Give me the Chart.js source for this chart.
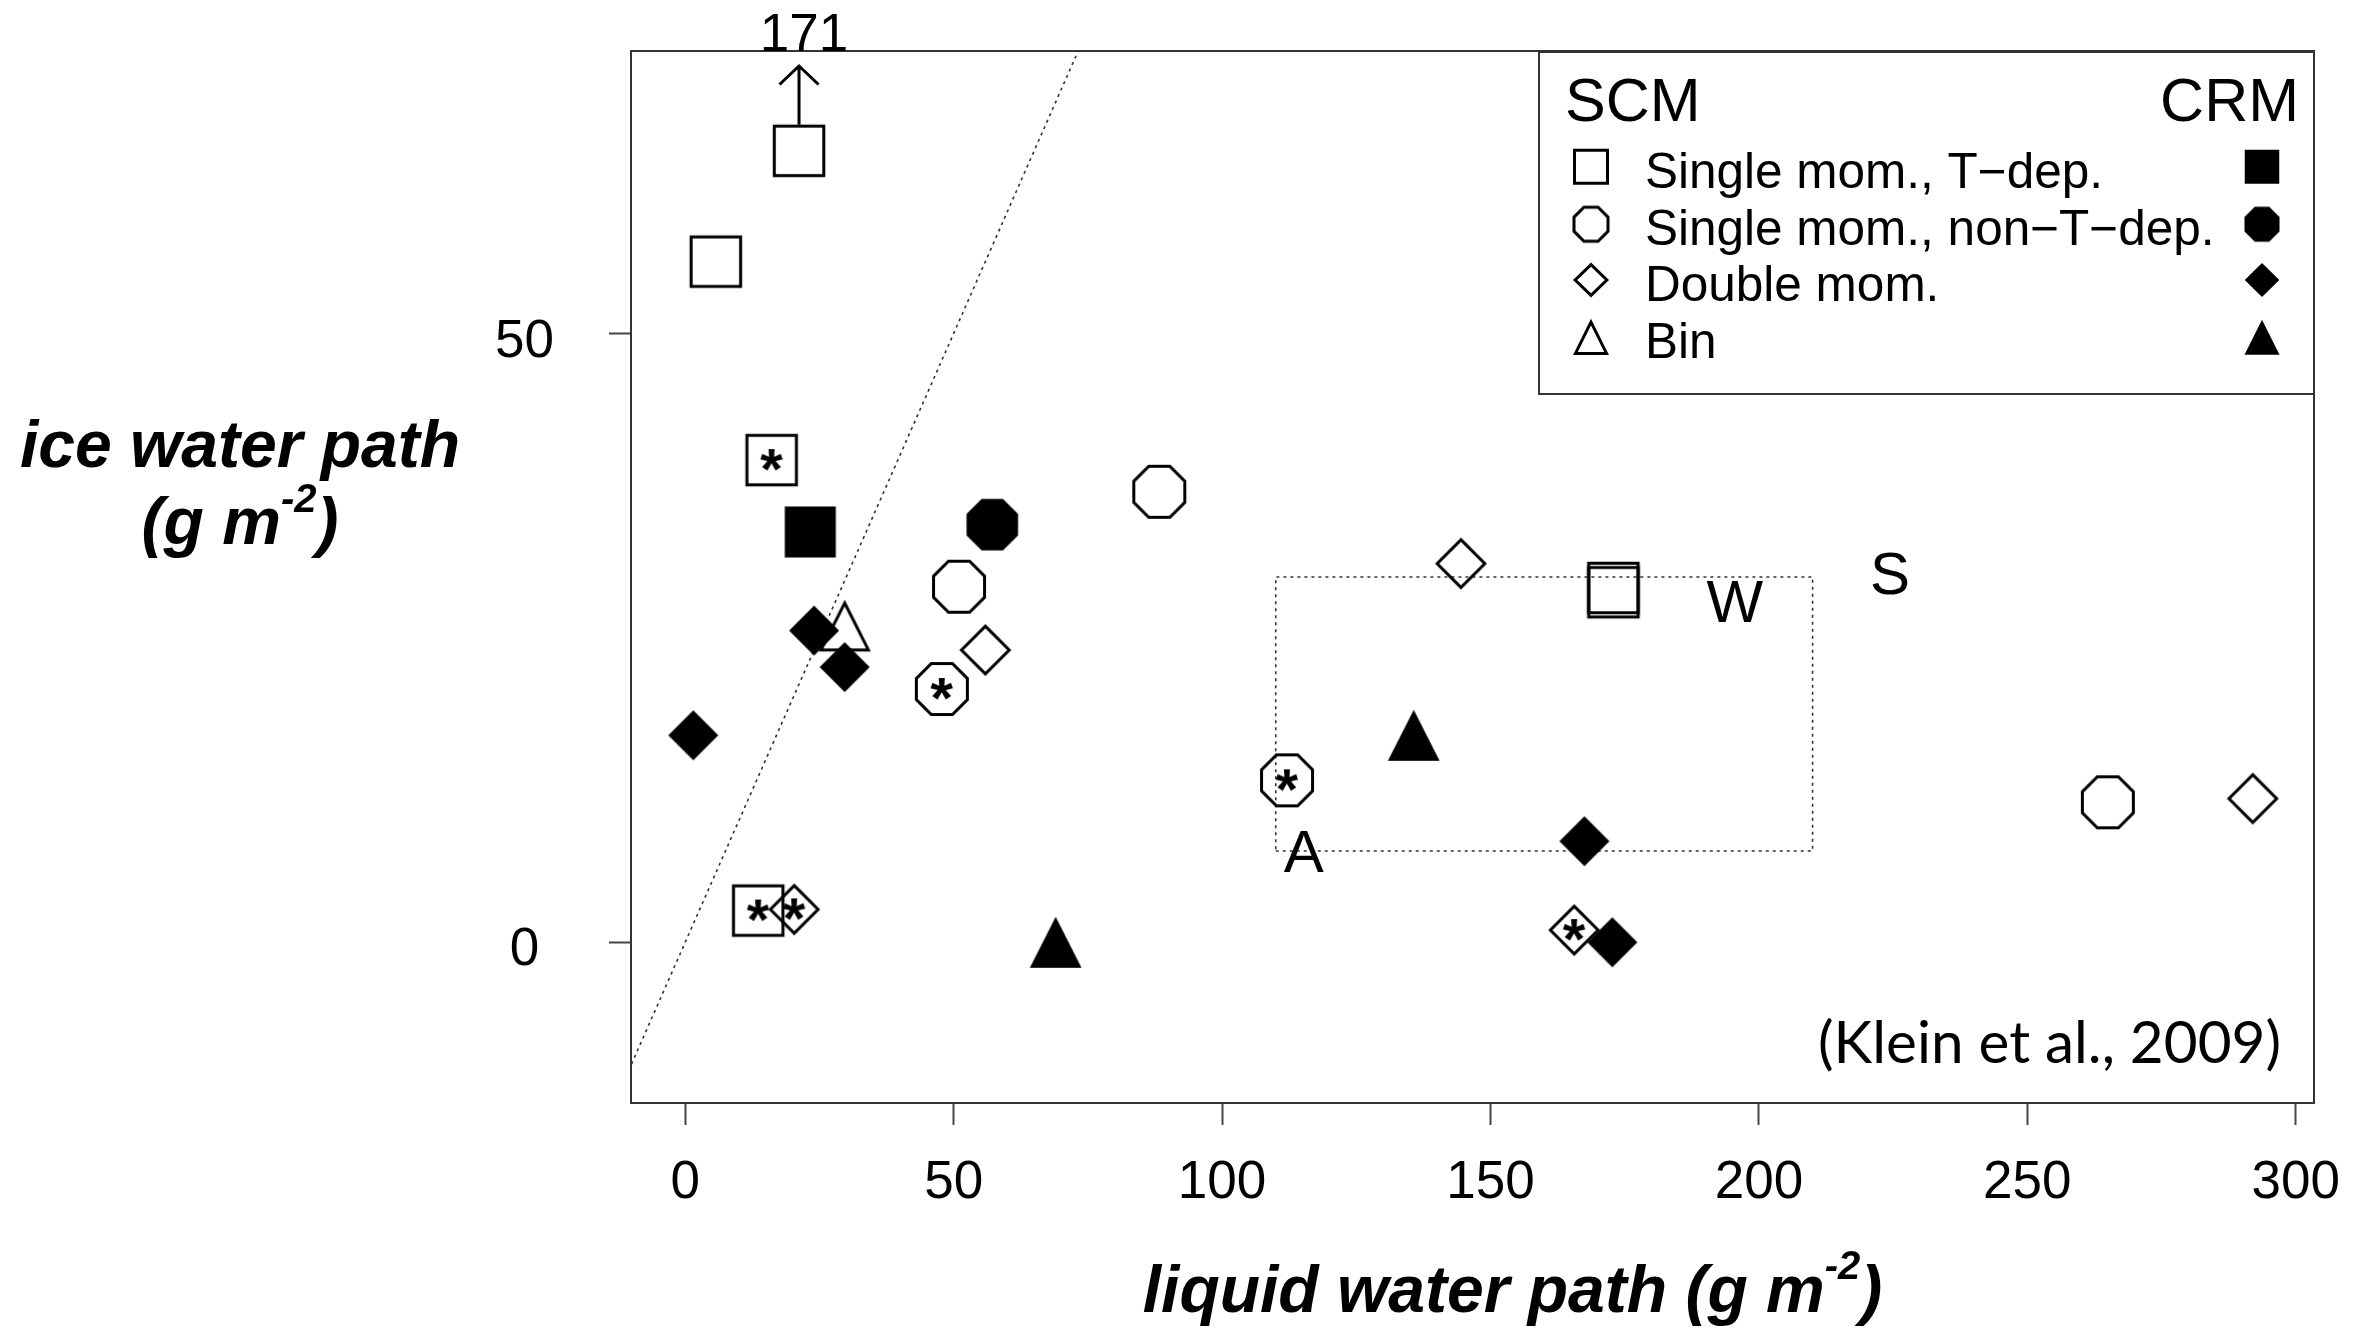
<!DOCTYPE html>
<html>
<head>
<meta charset="utf-8">
<title>IWP vs LWP</title>
<script src="https://cdn.jsdelivr.net/npm/chart.js@4.4.1/dist/chart.umd.min.js"></script>
<style>
  html, body { margin: 0; padding: 0; background: #fff; }
  #wrap { width: 2361px; height: 1331px; }
</style>
</head>
<body>
<div id="wrap"><canvas id="myChart" width="2361" height="1331"></canvas></div>
<script>
// Values, in g m-2 (x = liquid water path, y = ice water path)

// SCM runs, open symbols. Stars mark the runs flagged with "*".
// First square is off-scale (171) and is drawn at the top with an arrow.
const scmSquareX = [21.2, 5.7, 16.1, 13.6, 172.9, 172.9];
const scmSquareY = [65.0, 55.9, 39.6, 2.6, 29.1, 28.75];
const scmSquareStar = [false, false, true, true, false, false];

const scmOctagonX = [88.3, 51.0, 47.8, 112.1, 265.0];
const scmOctagonY = [37.0, 29.2, 20.8, 13.3, 11.5];
const scmOctagonStar = [false, false, true, true, false];

const scmDiamondX = [144.5, 55.9, 20.3, 165.6, 292.0];
const scmDiamondY = [31.1, 24.0, 2.7, 1.0, 11.8];
const scmDiamondStar = [false, false, true, true, false];

const scmTriangleX = [29.7];
const scmTriangleY = [25.3];

// CRM runs, filled symbols
const crmSquareX = [23.3];
const crmSquareY = [33.7];
const crmOctagonX = [57.2];
const crmOctagonY = [34.3];
const crmDiamondX = [1.5, 24.0, 29.7, 167.5, 172.7];
const crmDiamondY = [17.0, 25.6, 22.6, 8.3, 0.0];
const crmTriangleX = [135.7, 69.0];
const crmTriangleY = [16.3, -0.7];

// one-to-one line and the observation box
const oneToOneX = [-20, 80];
const oneToOneY = [-20, 80];
const obsBoxX = [110, 210, 210, 110, 110];
const obsBoxY = [7.5, 7.5, 30, 30, 7.5];

// letters placed on the plot
const markLabels = ['A', 'W', 'S'];
const markLabelX = [115.2, 195.5, 224.4];
const markLabelY = [7.1, 27.7, 30.0];
const offScaleLabel = '171';

const xTicks = [0, 50, 100, 150, 200, 250, 300];
const yTicks = [0, 50];

const legendLabels = ['Single mom., T\u2212dep.', 'Single mom., non\u2212T\u2212dep.', 'Double mom.', 'Bin'];
const legendShapes = ['square', 'octagon', 'diamond', 'triangle'];

const FONT = '"Liberation Sans", Arial, Helvetica, sans-serif';

// marker images, w/h are the outer size of the drawn mark
function makeMarker(shape, filled, w, h) {
  const lw = filled ? 0 : 3;
  const size = Math.ceil(Math.max(w, h) * 0.8) * 2;
  const c = document.createElement('canvas');
  c.width = size; c.height = size;
  const g = c.getContext('2d');
  g.translate(size / 2, size / 2);
  g.beginPath();
  if (shape === 'square') {
    const a = w / 2 - lw / 2, b = h / 2 - lw / 2;
    g.rect(-a, -b, 2 * a, 2 * b);
  } else if (shape === 'octagon') {
    const a = w / 2 - lw / 2, b = h / 2 - lw / 2, t = Math.tan(Math.PI / 8);
    g.moveTo(-a * t, -b); g.lineTo(a * t, -b); g.lineTo(a, -b * t); g.lineTo(a, b * t);
    g.lineTo(a * t, b); g.lineTo(-a * t, b); g.lineTo(-a, b * t); g.lineTo(-a, -b * t);
    g.closePath();
  } else if (shape === 'diamond') {
    const a = w / 2 - lw * 0.71, b = h / 2 - lw * 0.71;
    g.moveTo(0, -b); g.lineTo(a, 0); g.lineTo(0, b); g.lineTo(-a, 0);
    g.closePath();
  } else {
    const H = h - lw * 1.6, a = w / 2 - lw * 0.9;
    g.moveTo(0, -2 * H / 3); g.lineTo(a, H / 3); g.lineTo(-a, H / 3);
    g.closePath();
  }
  if (filled) {
    g.fillStyle = '#000';
    g.fill();
  } else {
    g.lineWidth = lw;
    g.lineJoin = 'miter';
    g.strokeStyle = '#000';
    g.stroke();
  }
  return c;
}

function makeStar(px) {
  const c = document.createElement('canvas');
  c.width = 48; c.height = 48;
  const g = c.getContext('2d');
  g.font = 'bold ' + px + 'px ' + FONT;
  g.fillStyle = '#000';
  const m = g.measureText('*');
  const x = 24 - (m.actualBoundingBoxRight - m.actualBoundingBoxLeft) / 2;
  const y = 24 + (m.actualBoundingBoxAscent - m.actualBoundingBoxDescent) / 2;
  g.fillText('*', x, y);
  return c;
}

const plotMarks = {
  openSquare: makeMarker('square', false, 52.5, 52.5),
  openOctagon: makeMarker('octagon', false, 54, 54),
  openDiamond: makeMarker('diamond', false, 52, 52),
  openTriangle: makeMarker('triangle', false, 52.7, 51.7),
  fillSquare: makeMarker('square', true, 51, 51),
  fillOctagon: makeMarker('octagon', true, 51.5, 51.5),
  fillDiamond: makeMarker('diamond', true, 50, 50),
  fillTriangle: makeMarker('triangle', true, 51.7, 51),
  star: makeStar(58)
};
const legendOpen = {
  square: makeMarker('square', false, 36, 36),
  octagon: makeMarker('octagon', false, 37, 37),
  diamond: makeMarker('diamond', false, 36, 35),
  triangle: makeMarker('triangle', false, 36.5, 36)
};
const legendFilled = {
  square: makeMarker('square', true, 34.5, 34),
  octagon: makeMarker('octagon', true, 35, 35),
  diamond: makeMarker('diamond', true, 34.5, 34),
  triangle: makeMarker('triangle', true, 35, 35)
};

function pts(xs, ys) {
  return xs.map((x, i) => ({ x: x, y: ys[i] }));
}

function starred(xs, ys, flags) {
  return pts(xs, ys).filter((p, i) => flags[i]);
}

function markerSet(label, data, style, order) {
  return {
    label: label,
    data: data,
    pointStyle: style,
    pointRadius: 26,
    showLine: false,
    order: order
  };
}

const starPoints = [].concat(
  starred(scmSquareX, scmSquareY, scmSquareStar),
  starred(scmOctagonX, scmOctagonY, scmOctagonStar),
  starred(scmDiamondX, scmDiamondY, scmDiamondStar)
);

const datasets = [
  {
    label: '1:1',
    data: pts(oneToOneX, oneToOneY),
    showLine: true,
    borderColor: '#333',
    borderWidth: 1.6,
    borderDash: [3, 4],
    pointRadius: 0,
    order: 5
  },
  {
    label: 'box',
    data: pts(obsBoxX, obsBoxY),
    showLine: true,
    borderColor: '#333',
    borderWidth: 1.6,
    borderDash: [3, 4],
    pointRadius: 0,
    order: 5
  },
  markerSet('SCM single T-dep', pts(scmSquareX, scmSquareY), plotMarks.openSquare, 3),
  markerSet('SCM single non-T-dep', pts(scmOctagonX, scmOctagonY), plotMarks.openOctagon, 3),
  markerSet('SCM double', pts(scmDiamondX, scmDiamondY), plotMarks.openDiamond, 3),
  markerSet('SCM bin', pts(scmTriangleX, scmTriangleY), plotMarks.openTriangle, 3),
  markerSet('CRM single T-dep', pts(crmSquareX, crmSquareY), plotMarks.fillSquare, 1),
  markerSet('CRM single non-T-dep', pts(crmOctagonX, crmOctagonY), plotMarks.fillOctagon, 1),
  markerSet('CRM double', pts(crmDiamondX, crmDiamondY), plotMarks.fillDiamond, 1),
  markerSet('CRM bin', pts(crmTriangleX, crmTriangleY), plotMarks.fillTriangle, 1),
  markerSet('flagged', starPoints, plotMarks.star, 0)
];

// text with a raised part (superscripts)
function drawRich(ctx, parts, cx, base) {
  let total = 0;
  parts.forEach(p => { ctx.font = p.font; p.w = ctx.measureText(p.text).width; total += p.w; });
  let x = cx - total / 2;
  ctx.textAlign = 'left';
  ctx.textBaseline = 'alphabetic';
  parts.forEach(p => {
    ctx.font = p.font;
    ctx.fillText(p.text, x, base - (p.rise || 0));
    x += p.w;
  });
}

const decorations = {
  id: 'decorations',
  afterDraw(chart) {
    const ctx = chart.ctx;
    const area = chart.chartArea;
    const xs = chart.scales.x, ys = chart.scales.y;
    ctx.save();
    ctx.fillStyle = '#000';
    ctx.strokeStyle = '#000';

    // plot frame
    ctx.lineWidth = 2;
    ctx.strokeStyle = '#333';
    ctx.strokeRect(area.left, area.top, area.right - area.left, area.bottom - area.top);

    // letters A, W, S
    ctx.font = '60px ' + FONT;
    ctx.textAlign = 'center';
    ctx.textBaseline = 'middle';
    markLabels.forEach((t, i) => {
      ctx.fillText(t, xs.getPixelForValue(markLabelX[i]), ys.getPixelForValue(markLabelY[i]));
    });

    // off-scale arrow above the first square
    const ax = xs.getPixelForValue(scmSquareX[0]);
    const y0 = ys.getPixelForValue(scmSquareY[0]) - 26;
    const y1 = area.top + 15;
    ctx.strokeStyle = '#000';
    ctx.lineWidth = 3;
    ctx.beginPath();
    ctx.moveTo(ax, y0); ctx.lineTo(ax, y1);
    ctx.moveTo(ax - 19.5, y1 + 18.5); ctx.lineTo(ax, y1); ctx.lineTo(ax + 19.5, y1 + 18.5);
    ctx.stroke();
    ctx.font = '53px ' + FONT;
    ctx.textAlign = 'center';
    ctx.textBaseline = 'alphabetic';
    ctx.fillText(offScaleLabel, ax + 5, area.top);

    // citation
    ctx.font = '58px Lato, ' + FONT;
    const cite = '(Klein et al., 2009)';
    const cw = ctx.measureText(cite).width;
    ctx.save();
    ctx.translate(area.right - 33, area.bottom - 40);
    ctx.scale(463 / cw, 1);
    ctx.textAlign = 'right';
    ctx.fillText(cite, 0, 0);
    ctx.restore();

    // axis titles
    const big = 'italic bold 66px ' + FONT;
    const sup = 'italic bold 40px ' + FONT;
    drawRich(ctx, [
      { text: 'liquid water path (g m', font: big },
      { text: '-2', font: sup, rise: 33 },
      { text: ')', font: big }
    ], (area.left + area.right) / 2 + 40, area.bottom + 209);
    drawRich(ctx, [{ text: 'ice water path', font: big }], area.left - 391, area.top + 416);
    drawRich(ctx, [
      { text: '(g m', font: big },
      { text: '-2', font: sup, rise: 32 },
      { text: ')', font: big }
    ], area.left - 391, area.top + 493);

    // legend box
    const lx = area.right - 775, ly = area.top + 1;
    ctx.fillStyle = '#fff';
    ctx.fillRect(lx, ly, area.right - lx, 342);
    ctx.lineWidth = 2;
    ctx.strokeStyle = '#333';
    ctx.strokeRect(lx, ly, area.right - lx, 342);
    ctx.fillStyle = '#000';
    ctx.font = '61px ' + FONT;
    ctx.textBaseline = 'alphabetic';
    ctx.textAlign = 'left';
    ctx.fillText('SCM', lx + 26, ly + 69);
    ctx.textAlign = 'right';
    ctx.fillText('CRM', area.right - 15, ly + 69);
    const rowBase = [136, 192.5, 249, 305.5];
    const rowMark = [114.7, 172.2, 228, 291];
    ctx.font = '49.5px ' + FONT;
    ctx.textAlign = 'left';
    legendLabels.forEach((t, i) => {
      ctx.fillText(t, lx + 106, ly + rowBase[i]);
      const o = legendOpen[legendShapes[i]];
      const f = legendFilled[legendShapes[i]];
      ctx.drawImage(o, lx + 52 - o.width / 2, ly + rowMark[i] - o.height / 2);
      ctx.drawImage(f, area.right - 52 - f.width / 2, ly + rowMark[i] - f.height / 2);
    });
    ctx.restore();
  }
};

// keep the axes from pushing the plot area around
function fixPadding(s) {
  s.paddingTop = 0;
  s.paddingBottom = 0;
  s.paddingLeft = 0;
  s.paddingRight = 0;
}

const ctx = document.getElementById('myChart').getContext('2d');
const myChart = new Chart(ctx, {
  type: 'scatter',
  data: { datasets: datasets },
  options: {
    responsive: false,
    animation: false,
    events: [],
    devicePixelRatio: 1,
    layout: { padding: { left: 331, right: 47, top: 51, bottom: 108 } },
    plugins: {
      legend: { display: false },
      tooltip: { enabled: false }
    },
    scales: {
      x: {
        type: 'linear',
        min: -10.1,
        max: 303.4,
        afterBuildTicks: s => { s.ticks = xTicks.map(v => ({ value: v })); },
        afterFit: s => { s.height = 120; fixPadding(s); },
        border: { display: false },
        grid: { drawOnChartArea: false, drawTicks: true, tickLength: 22, tickColor: '#444', tickWidth: 2 },
        ticks: {
          font: { family: FONT, size: 53 },
          color: '#000',
          padding: 27,
          maxRotation: 0,
          autoSkip: false
        }
      },
      y: {
        type: 'linear',
        min: -13.2,
        max: 73.2,
        afterBuildTicks: s => { s.ticks = yTicks.map(v => ({ value: v })); },
        afterFit: s => { s.width = 300; fixPadding(s); },
        border: { display: false },
        grid: { drawOnChartArea: false, drawTicks: true, tickLength: 22, tickColor: '#444', tickWidth: 2 },
        ticks: {
          // empty first line nudges the label a little below its tick, as in the figure
          callback: v => ['', String(v)],
          font: { family: FONT, size: 53, lineHeight: 0.32 },
          color: '#000',
          padding: 55,
          crossAlign: 'center',
          autoSkip: false
        }
      }
    }
  },
  plugins: [decorations]
});
</script>
</body>
</html>
